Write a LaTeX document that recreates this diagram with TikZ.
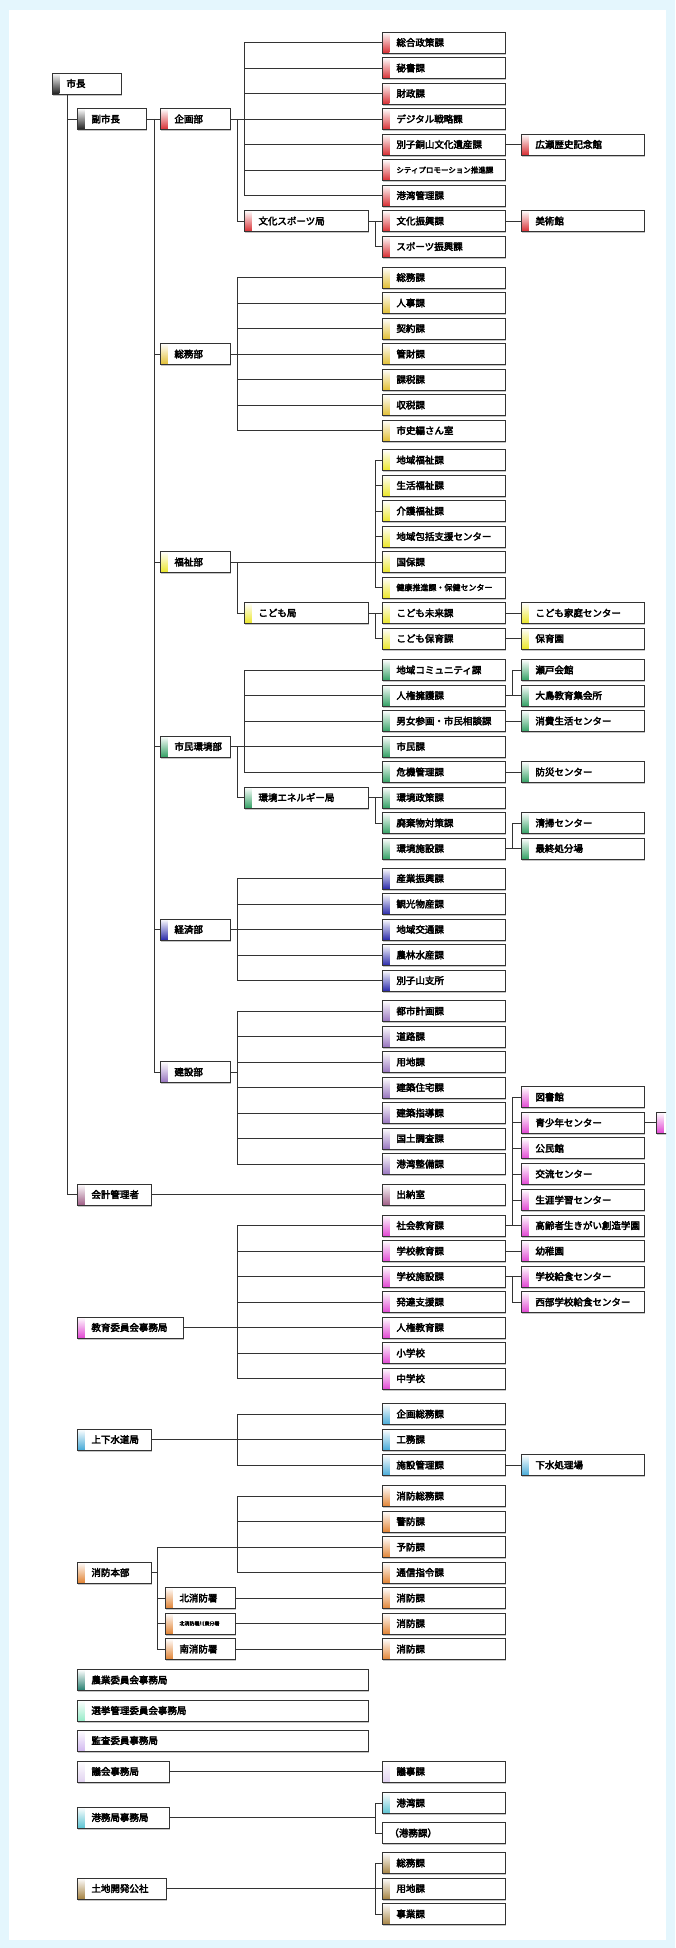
\documentclass[tikz,border=0pt]{standalone}
\usepackage{fontspec}
\newfontfamily\jpfont{Noto Sans CJK JP}[FakeBold=3.5]
\usepackage{tikz}
\usetikzlibrary{shadows}
\definecolor{bgcyan}{RGB}{228,246,253}
\definecolor{cmayor}{RGB}{30,30,30}
\definecolor{ckikaku}{RGB}{215,45,50}
\definecolor{csoumu}{RGB}{225,190,50}
\definecolor{cfukushi}{RGB}{235,230,40}
\definecolor{cshimin}{RGB}{50,160,100}
\definecolor{ckeizai}{RGB}{40,40,170}
\definecolor{ckensetsu}{RGB}{150,115,190}
\definecolor{ckyoiku}{RGB}{225,70,210}
\definecolor{ckaikei}{RGB}{160,95,135}
\definecolor{csuido}{RGB}{70,170,215}
\definecolor{cshobo}{RGB}{225,130,50}
\definecolor{cnogyo}{RGB}{35,125,110}
\definecolor{csenkyo}{RGB}{150,235,200}
\definecolor{ckansa}{RGB}{210,185,240}
\definecolor{cgikai}{RGB}{225,210,240}
\definecolor{ckomu}{RGB}{90,195,210}
\definecolor{ctochi}{RGB}{165,130,65}
\begin{document}
\begin{tikzpicture}[x=1pt,y=-1pt,
  ubox/.style={draw=black!80,line width=0.9pt,fill=white,anchor=west,inner xsep=8pt,inner ysep=0pt,minimum height=21pt,align=left,
    font=\jpfont\fontsize{9.5}{10}\selectfont,drop shadow={shadow xshift=0.6pt,shadow yshift=-1.6pt,fill=black!45},
    execute at begin node={\hspace*{6pt}},
    path picture={\shade[top color=white,bottom color=#1] (path picture bounding box.south west) rectangle ([xshift=7pt]path picture bounding box.north west);}},
  ka/.style={ubox=#1,text width=107pt},
  bu/.style={ubox=#1,text width=54pt},
  kyoku/.style={ubox=#1,text width=108pt},
  link/.style={draw=black!80,line width=0.9pt}]
\fill[bgcyan] (0,0) rectangle (675,1948);
\fill[white] (9,10) rectangle (666,1940);
\useasboundingbox (0,0) rectangle (675,1948);
\node[ubox=cmayor,text width=53pt] (mayor) at (52,83.5) {市長};
\node[ubox=cmayor,text width=53pt] (vmayor) at (77,119) {副市長};
\node[bu=ckikaku] (kikaku) at (160,119) {企画部};
\node[bu=csoumu] (soumubu) at (160,354) {総務部};
\node[bu=cfukushi] (fukushi) at (160,562) {福祉部};
\node[bu=cshimin] (shiminbu) at (160,746.5) {市民環境部};
\node[bu=ckeizai] (keizai) at (160,929.5) {経済部};
\node[bu=ckensetsu] (kensetsu) at (160,1072) {建設部};
\node[kyoku=ckikaku] (bunkaspo) at (244,221) {文化スポーツ局};
\node[kyoku=cfukushi] (kodomo) at (244,613) {こども局};
\node[kyoku=cshimin] (ekyoku) at (244,797.5) {環境エネルギー局};
\node[ka=ckikaku] (sougou) at (382,42.5) {総合政策課};
\node[ka=ckikaku] (hisho) at (382,68) {秘書課};
\node[ka=ckikaku] (zaisei) at (382,93.5) {財政課};
\node[ka=ckikaku] (digital) at (382,119) {デジタル戦略課};
\node[ka=ckikaku] (besshi) at (382,144.5) {別子銅山文化遺産課};
\node[ka=ckikaku,font=\jpfont\fontsize{7.5}{8}\selectfont] (city) at (382,170) {シティプロモーション推進課};
\node[ka=ckikaku] (kowan) at (382,195.5) {港湾管理課};
\node[ka=ckikaku] (bunkashin) at (382,221) {文化振興課};
\node[ka=ckikaku] (sports) at (382,246.5) {スポーツ振興課};
\node[ka=csoumu] (soumuka) at (382,277.5) {総務課};
\node[ka=csoumu] (jinji) at (382,303) {人事課};
\node[ka=csoumu] (keiyaku) at (382,328.5) {契約課};
\node[ka=csoumu] (kanzai) at (382,354) {管財課};
\node[ka=csoumu] (kazei) at (382,379.5) {課税課};
\node[ka=csoumu] (shuzei) at (382,405) {収税課};
\node[ka=csoumu] (shishi) at (382,430.5) {市史編さん室};
\node[ka=cfukushi] (chiikifuku) at (382,460) {地域福祉課};
\node[ka=cfukushi] (seikatsu) at (382,485.5) {生活福祉課};
\node[ka=cfukushi] (kaigo) at (382,511) {介護福祉課};
\node[ka=cfukushi] (houkatsu) at (382,536.5) {地域包括支援センター};
\node[ka=cfukushi] (kokuho) at (382,562) {国保課};
\node[ka=cfukushi,font=\jpfont\fontsize{8}{9}\selectfont] (kenko) at (382,587.5) {健康推進課・保健センター};
\node[ka=cfukushi] (mirai) at (382,613) {こども未来課};
\node[ka=cfukushi] (hoiku) at (382,638.5) {こども保育課};
\node[ka=cshimin] (community) at (382,670) {地域コミュニティ課};
\node[ka=cshimin] (jinken) at (382,695.5) {人権擁護課};
\node[ka=cshimin] (danjo) at (382,721) {男女参画・市民相談課};
\node[ka=cshimin] (shiminka) at (382,746.5) {市民課};
\node[ka=cshimin] (kiki) at (382,772) {危機管理課};
\node[ka=cshimin] (seisaku) at (382,797.5) {環境政策課};
\node[ka=cshimin] (haiki) at (382,823) {廃棄物対策課};
\node[ka=cshimin] (kshisetsu) at (382,848.5) {環境施設課};
\node[ka=ckeizai] (sangyo) at (382,878.5) {産業振興課};
\node[ka=ckeizai] (kanko) at (382,904) {観光物産課};
\node[ka=ckeizai] (kotsu) at (382,929.5) {地域交通課};
\node[ka=ckeizai] (norin) at (382,955) {農林水産課};
\node[ka=ckeizai] (besshiyama) at (382,980.5) {別子山支所};
\node[ka=ckensetsu] (toshi) at (382,1011) {都市計画課};
\node[ka=ckensetsu] (douro) at (382,1036.5) {道路課};
\node[ka=ckensetsu] (youchi) at (382,1062) {用地課};
\node[ka=ckensetsu] (jutaku) at (382,1087.5) {建築住宅課};
\node[ka=ckensetsu] (shido) at (382,1113) {建築指導課};
\node[ka=ckensetsu] (kokudo) at (382,1138.5) {国土調査課};
\node[ka=ckensetsu] (kseibi) at (382,1164) {港湾整備課};
\node[ka=ckaikei] (suitou) at (382,1194.5) {出納室};
\node[ka=ckyoiku] (shakai) at (382,1225.5) {社会教育課};
\node[ka=ckyoiku] (gkyoiku) at (382,1251) {学校教育課};
\node[ka=ckyoiku] (gshisetsu) at (382,1276.5) {学校施設課};
\node[ka=ckyoiku] (hattatsu) at (382,1302) {発達支援課};
\node[ka=ckyoiku] (jkyoiku) at (382,1327.5) {人権教育課};
\node[ka=ckyoiku] (shogakko) at (382,1353) {小学校};
\node[ka=ckyoiku] (chugakko) at (382,1378.5) {中学校};
\node[ka=csuido] (kikakusomu) at (382,1414) {企画総務課};
\node[ka=csuido] (komu) at (382,1439.5) {工務課};
\node[ka=csuido] (skanri) at (382,1465) {施設管理課};
\node[ka=cshobo] (fsomu) at (382,1496) {消防総務課};
\node[ka=cshobo] (keibo) at (382,1521.5) {警防課};
\node[ka=cshobo] (yobo) at (382,1547) {予防課};
\node[ka=cshobo] (tsushin) at (382,1572.5) {通信指令課};
\node[ka=cshobo] (fka1) at (382,1598) {消防課};
\node[ka=cshobo] (fka2) at (382,1623.5) {消防課};
\node[ka=cshobo] (fka3) at (382,1649) {消防課};
\node[ka=cgikai] (gijika) at (382,1771.5) {議事課};
\node[ka=ckomu] (kowanka) at (382,1803) {港湾課};
\node[ka=white,execute at begin node={\hspace*{-7pt}}] (koumuka) at (382,1833) {（港務課）};
\node[ka=ctochi] (tsomu) at (382,1863) {総務課};
\node[ka=ctochi] (tyouchi) at (382,1888.5) {用地課};
\node[ka=ctochi] (jigyo) at (382,1914) {事業課};
\node[ka=ckikaku] (hirose) at (521,144.5) {広瀬歴史記念館};
\node[ka=ckikaku] (bijutsu) at (521,221) {美術館};
\node[ka=cfukushi] (katei) at (521,613) {こども家庭センター};
\node[ka=cfukushi] (hoikuen) at (521,638.5) {保育園};
\node[ka=cshimin] (seto) at (521,670) {瀬戸会館};
\node[ka=cshimin] (oshima) at (521,695.5) {大島教育集会所};
\node[ka=cshimin] (shohi) at (521,721) {消費生活センター};
\node[ka=cshimin] (bousai) at (521,772) {防災センター};
\node[ka=cshimin] (seisou) at (521,823) {清掃センター};
\node[ka=cshimin] (saishu) at (521,848.5) {最終処分場};
\node[ka=ckyoiku] (tosho) at (521,1097) {図書館};
\node[ka=ckyoiku] (seishonen) at (521,1122.7) {青少年センター};
\node[ka=ckyoiku] (kominkan) at (521,1148.3) {公民館};
\node[ka=ckyoiku] (koryu) at (521,1174) {交流センター};
\node[ka=ckyoiku] (shogai) at (521,1200) {生涯学習センター};
\node[ka=ckyoiku] (koreisha) at (521,1225.5) {高齢者生きがい創造学園};
\node[ka=ckyoiku] (yochien) at (521,1251) {幼稚園};
\node[ka=ckyoiku] (kyushoku) at (521,1276.5) {学校給食センター};
\node[ka=ckyoiku] (seibu) at (521,1302) {西部学校給食センター};
\node[ka=csuido] (gesui) at (521,1465) {下水処理場};
\begin{scope}
\clip (9,10) rectangle (666,1940);
\node[ka=ckyoiku] (extra) at (656,1122.7) {};
\end{scope}
\node[ubox=ckaikei,text width=58pt] (kaikei) at (77,1194.5) {会計管理者};
\node[ubox=ckyoiku,text width=90pt] (kyoiku) at (77,1327.5) {教育委員会事務局};
\node[ubox=csuido,text width=58pt] (suido) at (77,1439.5) {上下水道局};
\node[ubox=cshobo,text width=58pt] (shobo) at (77,1572.5) {消防本部};
\node[bu=cshobo] (kita) at (165,1598) {北消防署};
\node[bu=cshobo,font=\jpfont\fontsize{5}{6}\selectfont] (bunsho) at (165,1623.5) {北消防署川東分署};
\node[bu=cshobo] (minami) at (165,1649) {南消防署};
\node[ubox=cnogyo,text width=275pt] (nogyo) at (77,1680) {農業委員会事務局};
\node[ubox=csenkyo,text width=275pt] (senkyo) at (77,1710.5) {選挙管理委員会事務局};
\node[ubox=ckansa,text width=275pt] (kansa) at (77,1740.5) {監査委員事務局};
\node[ubox=cgikai,text width=76pt] (gikai) at (77,1771.5) {議会事務局};
\node[ubox=ckomu,text width=76pt] (komukyoku) at (77,1817.5) {港務局事務局};
\node[ubox=ctochi,text width=73pt] (tochi) at (77,1888.5) {土地開発公社};
\coordinate (vmspine) at ([xshift=-6pt]kikaku.west);
\coordinate (soumuspine) at ([xshift=7pt]soumubu.east);
\coordinate (fkbr) at ([xshift=-7pt]chiikifuku.west);
\coordinate (kzspine) at ([xshift=7pt]keizai.east);
\coordinate (ksspine) at ([xshift=7pt]kensetsu.east);
\coordinate (kyspine) at ([xshift=-145pt]shakai.west);
\coordinate (swspine) at ([xshift=-145pt]kikakusomu.west);
\coordinate (fdspine) at ([xshift=-145pt]fsomu.west);
\coordinate (fbr) at ([xshift=6pt]shobo.east);
\coordinate (kmbr) at ([xshift=-7pt]kowanka.west);
\coordinate (tcbr) at ([xshift=-7pt]tsomu.west);
\draw[link] ([xshift=15pt]mayor.south west) |- (vmayor.west);
\draw[link] ([xshift=15pt]mayor.south west) |- (kaikei.west);
\draw[link] (vmayor.east) -- (kikaku.west);
\draw[link] (vmspine) |- (kensetsu.west);
\foreach \b in {soumubu,fukushi,shiminbu,keizai} \draw[link] (\b.west) -- (\b.west -| vmspine);
\draw[link] (kikaku.east) -- (digital.west);
\draw[link] (sougou.west) -- (sougou.west -| bunkaspo.west) |- (kowan.west);
\foreach \k in {hisho,zaisei,besshi,city} \draw[link] (\k.west) -- (\k.west -| bunkaspo.west);
\draw[link] ([xshift=7pt]kikaku.east) |- (bunkaspo.west);
\draw[link] (bunkaspo.east) -- (bunkashin.west);
\draw[link] ([xshift=7pt]bunkaspo.east) |- (sports.west);
\draw[link] (besshi.east) -- (hirose.west);
\draw[link] (bunkashin.east) -- (bijutsu.west);
\draw[link] (soumubu.east) -- (kanzai.west);
\draw[link] (soumuka.west) -- (soumuka.west -| soumuspine) |- (shishi.west);
\foreach \k in {jinji,keiyaku,kazei,shuzei} \draw[link] (\k.west) -- (\k.west -| soumuspine);
\draw[link] (fukushi.east) -- (kokuho.west);
\draw[link] (chiikifuku.west) -- (fkbr) |- (kenko.west);
\foreach \k in {seikatsu,kaigo,houkatsu} \draw[link] (\k.west) -- (\k.west -| fkbr);
\draw[link] ([xshift=7pt]fukushi.east) |- (kodomo.west);
\draw[link] (kodomo.east) -- (mirai.west);
\draw[link] ([xshift=7pt]kodomo.east) |- (hoiku.west);
\draw[link] (mirai.east) -- (katei.west);
\draw[link] (hoiku.east) -- (hoikuen.west);
\draw[link] (shiminbu.east) -- (shiminka.west);
\draw[link] (community.west) -- (community.west -| ekyoku.west) |- (kiki.west);
\foreach \k in {jinken,danjo} \draw[link] (\k.west) -- (\k.west -| ekyoku.west);
\draw[link] ([xshift=7pt]shiminbu.east) |- (ekyoku.west);
\draw[link] (ekyoku.east) -- (seisaku.west);
\draw[link] ([xshift=7pt]ekyoku.east) |- (haiki.west);
\draw[link] (jinken.east) -- (oshima.west);
\draw[link] ([xshift=-9pt]oshima.west) |- (seto.west);
\draw[link] (danjo.east) -- (shohi.west);
\draw[link] (kiki.east) -- (bousai.west);
\draw[link] (kshisetsu.east) -- (saishu.west);
\draw[link] ([xshift=-9pt]saishu.west) |- (seisou.west);
\draw[link] (keizai.east) -- (kotsu.west);
\draw[link] (sangyo.west) -- (sangyo.west -| kzspine) |- (besshiyama.west);
\foreach \k in {kanko,norin} \draw[link] (\k.west) -- (\k.west -| kzspine);
\draw[link] (kensetsu.east) -- (ksspine);
\draw[link] (toshi.west) -- (toshi.west -| ksspine) |- (kseibi.west);
\foreach \k in {douro,youchi,jutaku,shido,kokudo} \draw[link] (\k.west) -- (\k.west -| ksspine);
\draw[link] (kaikei.east) -- (suitou.west);
\draw[link] (kyoiku.east) -- (jkyoiku.west);
\draw[link] (shakai.west) -- (kyspine) |- (chugakko.west);
\foreach \k in {gkyoiku,gshisetsu,hattatsu,shogakko} \draw[link] (\k.west) -- (\k.west -| kyspine);
\draw[link] (shakai.east) -- (koreisha.west);
\draw[link] ([xshift=-9pt]koreisha.west) |- (tosho.west);
\foreach \k in {seishonen,kominkan,koryu,shogai} \draw[link] (\k.west) -- ++(-9pt,0);
\draw[link] (seishonen.east) -- (extra.west);
\draw[link] (gkyoiku.east) -- (yochien.west);
\draw[link] (gshisetsu.east) -- (kyushoku.west);
\draw[link] ([xshift=-9pt]kyushoku.west) |- (seibu.west);
\draw[link] (suido.east) -- (komu.west);
\draw[link] (kikakusomu.west) -- (swspine) |- (skanri.west);
\draw[link] (skanri.east) -- (gesui.west);
\draw[link] (fsomu.west) -- (fdspine) |- (tsushin.west);
\draw[link] (keibo.west) -- (keibo.west -| fdspine);
\draw[link] (shobo.east) -- (fbr);
\draw[link] (yobo.west) -- (yobo.west -| fbr) |- (minami.west);
\draw[link] (kita.west) -- (kita.west -| fbr);
\draw[link] (bunsho.west) -- (bunsho.west -| fbr);
\draw[link] (kita.east) -- (fka1.west);
\draw[link] (bunsho.east) -- (fka2.west);
\draw[link] (minami.east) -- (fka3.west);
\draw[link] (gikai.east) -- (gijika.west);
\draw[link] (kowanka.west) -- (kmbr) |- (koumuka.west);
\draw[link] (komukyoku.east) -- (komukyoku.east -| kmbr);
\draw[link] (tsomu.west) -- (tcbr) |- (jigyo.west);
\draw[link] (tochi.east) -- (tyouchi.west);
\end{tikzpicture}
\end{document}
